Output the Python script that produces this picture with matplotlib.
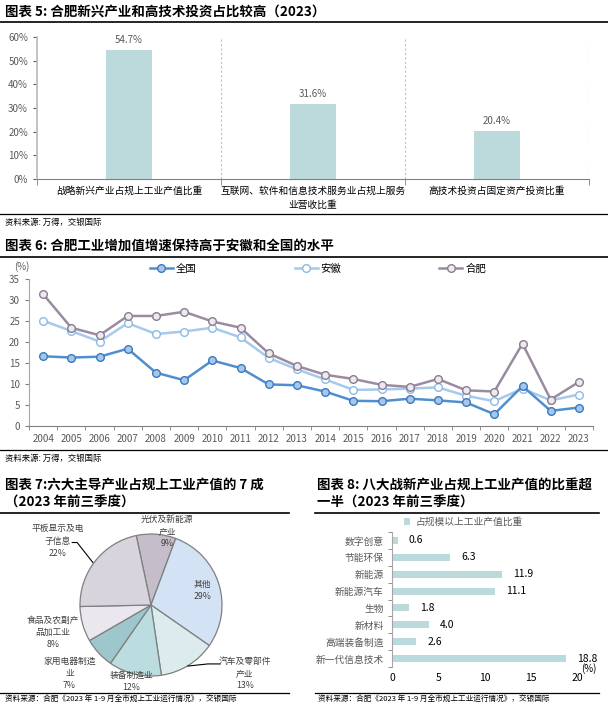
import numpy as np
import matplotlib
matplotlib.use("Agg")
import matplotlib.pyplot as plt
from matplotlib.lines import Line2D

plt.rcParams['font.family'] = ['Noto Sans CJK SC', 'DejaVu Sans']
plt.rcParams['axes.unicode_minus'] = False

# ---- data ----
# chart 5
c5_labels = ['战略新兴产业占规上工业产值比重',
             '互联网、软件和信息技术服务业占规上服务\n业营收比重',
             '高技术投资占固定资产投资比重']
c5_values = [0.547, 0.316, 0.204]

# chart 6
years = [str(y) for y in range(2004, 2024)]
national = [16.6, 16.3, 16.5, 18.4, 12.7, 10.9, 15.6, 13.8, 9.9, 9.7,
            8.2, 6.0, 5.9, 6.5, 6.1, 5.6, 2.8, 9.5, 3.6, 4.4]
anhui = [25.1, 22.6, 20.1, 24.5, 21.9, 22.5, 23.4, 21.1, 16.2, 13.5,
         11.1, 8.6, 8.7, 8.9, 9.2, 7.2, 5.9, 8.9, 6.1, 7.5]
hefei = [31.4, 23.4, 21.6, 26.2, 26.2, 27.2, 24.9, 23.4, 17.3, 14.3,
         12.2, 11.2, 9.8, 9.3, 11.2, 8.5, 8.2, 19.6, 6.3, 10.5]

# chart 7
pie_labels = ['光伏及新能源\n产业', '其他', '汽车及零部件\n产业', '装备制造业',
              '家用电器制造\n业', '食品及农副产\n品加工业', '平板显示及电\n子信息']
pie_values = [9, 29, 13, 12, 7, 8, 22]

# chart 8
c8_labels = ['数字创意', '节能环保', '新能源', '新能源汽车', '生物', '新材料',
             '高端装备制造', '新一代信息技术']
c8_values = [0.6, 6.3, 11.9, 11.1, 1.8, 4.0, 2.6, 18.8]

W, H = 608, 717
fig = plt.figure(figsize=(W / 100, H / 100), dpi=100)
fig.patch.set_facecolor('white')


def px_axes(l, t, r, b):
    return fig.add_axes([l / W, 1 - b / H, (r - l) / W, (b - t) / H])


def rule(x0, x1, y, lw):
    fig.add_artist(Line2D([x0 / W, x1 / W], [1 - y / H, 1 - y / H],
                          color='black', lw=lw, transform=fig.transFigure))


def ftext(x, y, s, **kw):
    fig.text(x / W, 1 - y / H, s, **kw)


gray = '#595959'
teal = '#bcd9dc'
tsize = 9.7
src1 = '资料来源: 万得，交银国际'
src2 = '资料来源：合肥《2023 年 1-9 月全市规上工业运行情况》，交银国际'

# ================= chart 5 =================
ftext(5, 12, '图表 5: 合肥新兴产业和高技术投资占比较高（2023）', fontsize=tsize,
      fontweight='bold', va='center')
rule(0, 608, 22, 1.2)
ax5 = px_axes(37, 37, 589, 179)
x5 = np.arange(len(c5_values))
bars = ax5.bar(x5, c5_values, width=0.25, color=teal)
for b, v in zip(bars, c5_values):
    ax5.annotate(f'{v * 100:.1f}%', (b.get_x() + b.get_width() / 2, v),
                 xytext=(0, 3.5), textcoords='offset points', ha='center',
                 va='bottom', fontsize=7, color=gray)
ax5.set_xlim(-0.5, 2.5)
ax5.set_ylim(0, 0.6)
ax5.set_yticks(np.arange(0, 0.61, 0.1))
ax5.set_yticklabels([f'{int(round(t * 100))}%' for t in np.arange(0, 0.61, 0.1)])
ax5.set_xticks(x5)
ax5.set_xticklabels(c5_labels, fontsize=7, color='black', linespacing=1.5)
ax5.set_xticks([-0.5, 0.5, 1.5, 2.5], minor=True)
ax5.tick_params(axis='x', which='major', length=0, pad=5)
ax5.tick_params(axis='x', which='minor', length=4, color='#808080')
ax5.tick_params(axis='y', labelsize=7, colors=gray, length=3)
for xv in [0.5, 1.5, 2.5]:
    ax5.axvline(xv, color='#c0c0c0', lw=0.8, ls=(0, (2, 2)))
for s in ['top', 'right']:
    ax5.spines[s].set_visible(False)
ax5.spines['left'].set_color('#bfbfbf')
ax5.spines['left'].set_linewidth(1.3)
ax5.spines['bottom'].set_color('#808080')
rule(0, 608, 214, 0.9)
ftext(5, 222, src1, fontsize=6, va='center', color='black')

# ================= chart 6 =================
ftext(5, 246, '图表 6: 合肥工业增加值增速保持高于安徽和全国的水平', fontsize=tsize,
      fontweight='bold', va='center')
rule(0, 608, 257, 1.2)
ax6 = px_axes(29, 279, 593, 426)
x6 = np.arange(len(years))
ax6.plot(x6, national, color='#4f8fd0', lw=1.8, marker='o', ms=5.5,
         mfc='#a7c7ea', mec='#3a78c0', mew=1, label='全国', zorder=4)
ax6.plot(x6, anhui, color='#a6c9ec', lw=1.8, marker='o', ms=5.5,
         mfc='white', mec='#8db9e6', mew=1, label='安徽', zorder=3)
ax6.plot(x6, hefei, color='#9a8ca0', lw=1.8, marker='o', ms=5.5,
         mfc='#eceaee', mec='#8a7c90', mew=1, label='合肥', zorder=3)
ax6.set_xlim(-0.5, len(years) - 0.5)
ax6.set_ylim(0, 35)
ax6.set_yticks(range(0, 36, 5))
ax6.set_xticks(x6)
ax6.set_xticklabels(years)
ax6.set_xticks(np.arange(-0.5, len(years)), minor=True)
ax6.tick_params(axis='x', which='major', length=0, pad=6, labelsize=7, colors=gray)
ax6.tick_params(axis='x', which='minor', length=3, color='#808080')
ax6.tick_params(axis='y', labelsize=7, colors=gray, length=3, color='#808080')
for s in ['top', 'right']:
    ax6.spines[s].set_visible(False)
ax6.spines['left'].set_color('#a6a6a6')
ax6.spines['bottom'].set_color('#808080')
ftext(22, 267, '(%)', fontsize=7, color=gray, ha='center', va='center')
ax6.legend(loc='center', bbox_to_anchor=(318 / W, 1 - 269 / H),
           bbox_transform=fig.transFigure, ncol=3, frameon=False,
           fontsize=7.5, handlelength=2.2, handletextpad=0.3,
           columnspacing=9.4, borderpad=0)
rule(0, 608, 450, 0.9)
ftext(5, 458, src1, fontsize=6, va='center', color='black')

# ================= chart 7 =================
ftext(5, 485, '图表 7:六大主导产业占规上工业产值的 7 成', fontsize=tsize,
      fontweight='bold', va='center')
ftext(5, 503, '（2023 年前三季度）', fontsize=tsize, fontweight='bold', va='center')
rule(0, 289, 513, 1.2)
ax7 = px_axes(151 - 71, 605 - 71, 151 + 71, 605 + 71)
pie_colors = ['#c5bdca', '#d3e3f5', '#dcebee', '#bcdde0', '#9dc7cd',
              '#eae8ee', '#d8d4dd']
ax7.pie(pie_values, colors=pie_colors, startangle=102, counterclock=False,
        wedgeprops=dict(edgecolor='#7f7f7f', linewidth=0.9))
ax7.set_xlim(-1, 1)
ax7.set_ylim(-1, 1)
label_pos = [(0.23, 1.04), (0.73, 0.21), (1.32, -0.96), (-0.28, -1.07),
             (-1.15, -0.96), (-1.38, -0.39), (-1.32, 0.90)]
for lab, v, (lx, ly) in zip(pie_labels, pie_values, label_pos):
    ax7.text(lx, ly, f'{lab}\n{v}%', ha='center', va='center', fontsize=6.3,
             color='#404040', linespacing=1.45, clip_on=False)
ax7.plot([-1.11, -1.04, -0.82], [0.88, 0.88, 0.60], color='black', lw=0.8,
         clip_on=False)
ax7.plot([0.52, 0.80, 0.97], [-0.86, -0.83, -0.83], color='black', lw=0.8,
         clip_on=False)
rule(0, 289, 693, 0.9)
ftext(5, 700, src2, fontsize=5.5, va='center', color='black')

# ================= chart 8 =================
ftext(317, 485, '图表 8: 八大战新产业占规上工业产值的比重超', fontsize=tsize,
      fontweight='bold', va='center')
ftext(317, 503, '一半（2023 年前三季度）', fontsize=tsize, fontweight='bold',
      va='center')
rule(315, 599, 513, 1.2)
ax8 = px_axes(392, 532, 577, 667)
y8 = np.arange(len(c8_values))
hb = ax8.barh(y8, c8_values, height=0.42, color=teal, label='占规模以上工业产值比重')
for yv, v in zip(y8, c8_values):
    ax8.annotate(f'{v:.1f}', (v, yv), xytext=(8, 0), textcoords='offset points',
                 ha='left', va='center', fontsize=7.5, color='black')
ax8.set_xlim(0, 20)
ax8.set_ylim(len(c8_values) - 0.5, -0.5)
ax8.set_xticks(range(0, 21, 5))
ax8.set_yticks(y8)
ax8.set_yticklabels(c8_labels)
ax8.set_yticks(np.arange(-0.5, len(c8_values)), minor=True)
ax8.tick_params(axis='y', which='major', length=0, pad=6, labelsize=7, colors=gray)
ax8.tick_params(axis='y', which='minor', length=3, color='#808080')
ax8.tick_params(axis='x', length=0, labelsize=7.5, colors='black', pad=4)
for s in ['top', 'right', 'bottom']:
    ax8.spines[s].set_visible(False)
ax8.spines['left'].set_color('#a6a6a6')
ftext(589, 669, '(%)', fontsize=7, color='black', ha='center', va='center')
ax8.legend(loc='center', bbox_to_anchor=(463 / W, 1 - 522 / H),
           bbox_transform=fig.transFigure, frameon=False, fontsize=7,
           handlelength=0.7, handleheight=0.7, handletextpad=0.5,
           labelcolor=gray, borderpad=0)
rule(315, 599, 693, 0.9)
ftext(318, 700, src2, fontsize=5.5, va='center', color='black')

fig.savefig('out.png', dpi=100)
